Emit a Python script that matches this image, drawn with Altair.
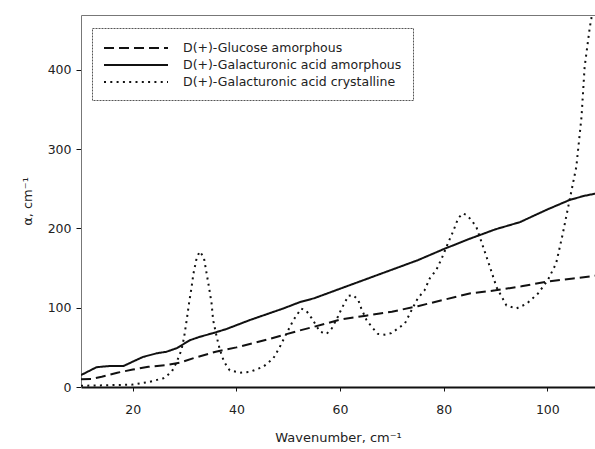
import altair as alt
import pandas as pd

# Series names
series_names = [
    "D(+)-Glucose amorphous",
    "D(+)-Galacturonic acid amorphous",
    "D(+)-Galacturonic acid crystalline",
]

# D(+)-Glucose amorphous (dashed)
glu_x = [10, 12, 14, 17, 20, 23, 26.5, 29, 32, 36, 40, 43, 46, 49, 52, 55, 60, 65, 70,
         75, 80, 85, 90, 95, 100, 105, 110]
glu_y = [9.7, 10, 13, 18, 22, 25.5, 27.7, 30.5, 37, 44.5, 50, 55, 60, 65.5, 71, 76, 85,
         90, 95, 102, 110, 118, 122, 127, 133, 137, 141]

# D(+)-Galacturonic acid amorphous (solid)
gaa_x = [10, 11.5, 13, 15.6, 18.2, 20, 22, 24.6, 26.5, 28.5, 31, 33, 35.5, 38, 42.6, 49,
         52.2, 55, 60, 65, 70, 75, 80, 85, 90, 94.7, 100, 104.3, 107, 110]
gaa_y = [15, 20, 25, 26.5, 26.5, 32, 38, 42.5, 44.5, 49, 59, 63.5, 68, 73, 84.5, 99,
         107, 112, 124, 136, 148, 160, 174, 187, 199, 208, 224, 236, 241, 245]

# D(+)-Galacturonic acid crystalline (dotted)
gac_x = [10, 13.7, 20, 23.3, 25.9, 27.5, 28.5, 29.4, 29.9, 30.4, 30.9, 31.3, 31.7, 32.3,
         32.9, 33.7, 34.2, 34.7, 35.2, 35.5, 36.2, 36.8, 37.6, 38.7, 40.7, 42.6, 45.2,
         47.1, 48.4, 49.7, 51, 52.5, 53.5, 54.5, 56.1, 57.4, 58.4, 59.6, 60.3, 61.6, 62.5,
         63.5, 64.1, 65.1, 66.1, 67.3, 68.6, 69.9, 71.2, 72.5, 73.8, 75, 76.3, 77.3, 78.6,
         79.6, 80.8, 81.8, 82.8, 83.7, 84.4, 85.3, 86.3, 87.6, 88.9, 90.2, 92.1, 94, 96,
         98.2, 100.1, 101.7, 103, 104.3, 105.6, 106.6, 107.2, 108.2, 108.5, 109.5]
gac_y = [1.6, 2, 3, 6.7, 11, 19, 32, 47, 63, 84.5, 108, 124, 143, 162, 171, 164, 145, 126,
         105.5, 84.5, 63, 47, 32, 21, 18, 19, 25.6, 36, 51, 68, 84.5, 99, 96, 87, 70, 67,
         74, 89, 99, 115, 116, 110, 99, 84.5, 76, 67, 66, 68, 74, 80, 97, 112, 122, 137,
         148, 162, 181, 196, 213, 219, 217, 211, 202, 177, 152, 126, 103, 99, 105, 118,
         135, 156, 194, 236, 278, 341, 404, 454, 465, 520]

rows = []
for name, xs, ys in zip(series_names, [glu_x, gaa_x, gac_x], [glu_y, gaa_y, gac_y]):
    for i, (a, b) in enumerate(zip(xs, ys)):
        rows.append({"series": name, "x": a, "y": b, "order": i})
df = pd.DataFrame(rows)

FONT = "DejaVu Sans"
TXT = "#222222"

xscale = alt.Scale(domain=[10, 109.2], nice=False, zero=False)
yscale = alt.Scale(domain=[0, 469.4], nice=False)

lines = alt.Chart(df).mark_line(clip=True, color="#111111", strokeWidth=2).encode(
    x=alt.X("x:Q", scale=xscale,
            axis=alt.Axis(values=[20, 40, 60, 80, 100], title="Wavenumber, cm⁻¹",
                          grid=False, domainColor="#111111", domainWidth=2,
                          tickColor="#111111", tickSize=4, labelPadding=12,
                          titlePadding=16)),
    y=alt.Y("y:Q", scale=yscale,
            axis=alt.Axis(values=[0, 100, 200, 300, 400], title="α, cm⁻¹", grid=False,
                          domainColor="#777777", domainWidth=1, tickColor="#111111",
                          tickSize=5, labelPadding=5, titlePadding=13)),
    strokeDash=alt.StrokeDash(
        "series:N",
        scale=alt.Scale(domain=series_names, range=[[10, 5], [1, 0], [2, 4.3]]),
        legend=alt.Legend(title=None, orient="none", legendX=11, legendY=13),
    ),
    order="order:Q",
)

top = alt.Chart(df).mark_line(opacity=0).encode(
    x=alt.X("x:Q", scale=xscale,
            axis=alt.Axis(orient="top", labels=False, ticks=False, title=None,
                          grid=False, domainColor="#777777", domainWidth=1)),
    y=alt.Y("y:Q", scale=yscale, axis=None),
    detail="series:N",
)

chart = alt.layer(lines, top).resolve_axis(x="independent", y="independent").properties(
    width=514,
    height=372,
    autosize=alt.AutoSizeParams(type="none"),
    padding={"left": 81, "top": 15, "right": 0, "bottom": 62},
).configure_view(stroke=None).configure_axis(
    labelFont=FONT, labelFontSize=12.5, labelColor=TXT,
    titleFont=FONT, titleFontSize=13, titleColor=TXT, titleFontWeight="normal",
).configure_legend(
    labelFont=FONT, labelFontSize=12.5, labelColor=TXT,
    symbolType="M-1,0H7", symbolSize=256, symbolStrokeWidth=2,
    symbolStrokeColor="#111111", labelOffset=62, padding=11, rowPadding=1,
    strokeColor="#555555", strokeDash=[2, 1], fillColor="white",
    labelLimit=400,
)

chart.save("out.html", embed_options={"renderer": "svg", "actions": False})
